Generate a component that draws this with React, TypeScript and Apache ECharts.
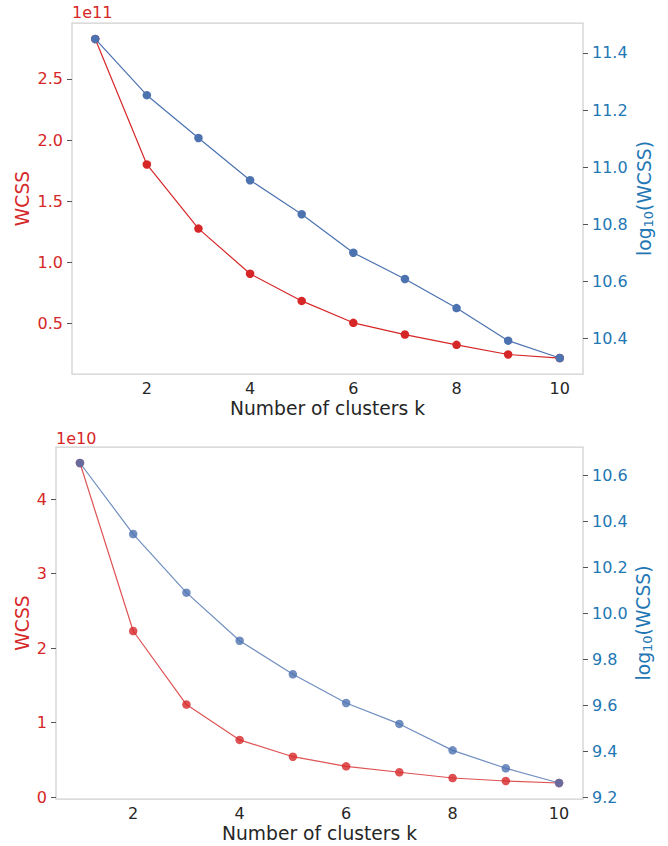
import React, { useEffect, useRef } from "react";
import * as echarts from "echarts";

const kValues = [1, 2, 3, 4, 5, 6, 7, 8, 9, 10];
const wcssTop = [2.826e11, 1.8e11, 1.276e11, 0.907e11, 0.685e11, 0.506e11, 0.41e11, 0.326e11, 0.247e11, 0.218e11];
const logTop = [11.449, 11.252, 11.102, 10.954, 10.835, 10.7, 10.608, 10.506, 10.392, 10.331];
const wcssBottom = [4.484e10, 2.229e10, 1.242e10, 0.767e10, 0.542e10, 0.413e10, 0.333e10, 0.256e10, 0.216e10, 0.189e10];
const logBottom = [10.654, 10.345, 10.09, 9.881, 9.735, 9.61, 9.519, 9.404, 9.326, 9.262];

const xTicks = [2, 4, 6, 8, 10];
const topLeftTicks = [0.5e11, 1.0e11, 1.5e11, 2.0e11, 2.5e11];
const topRightTicks = [10.4, 10.6, 10.8, 11.0, 11.2, 11.4];
const bottomLeftTicks = [0, 1e10, 2e10, 3e10, 4e10];
const bottomRightTicks = [9.2, 9.4, 9.6, 9.8, 10.0, 10.2, 10.4, 10.6];

const xLabel = "Number of clusters k";
const leftLabel = "WCSS";
const topExp = "1e11";
const bottomExp = "1e10";

const RED = "#d62728";
const BLUE = "#4c72b0";
const TICK_BLUE = "#1f77b4";
const DARK = "#262626";
const FONT = "DejaVu Sans";
const LABEL_SIZE = 18.7;

const margin = (e: { min: number; max: number }, lo: boolean) => {
  const span = e.max - e.min;
  return lo ? e.min - 0.05 * span : e.max + 0.05 * span;
};

const pairs = (ys: number[]) => kValues.map((k, i) => [k, ys[i]]);

export default function App() {
  const ref = useRef<HTMLDivElement>(null);
  useEffect(() => {
    if (!ref.current) return;
    const chart = echarts.init(ref.current, null, { renderer: "svg" });

    const xAxis = (gridIndex: number, nameGap: number) => ({
      type: "value",
      gridIndex,
      min: (e: any) => margin(e, true),
      max: (e: any) => margin(e, false),
      splitLine: { show: false },
      axisLine: { show: false },
      axisTick: { show: false },
      axisLabel: {
        customValues: xTicks,
        color: DARK,
        fontSize: 16,
        fontFamily: FONT,
        margin: 6,
        formatter: (v: number) => String(v),
      },
      name: xLabel,
      nameLocation: "middle",
      nameGap,
      nameMoveOverlap: false,
      nameTextStyle: { color: DARK, fontSize: LABEL_SIZE, fontFamily: FONT },
    });

    const yAxis = (
      gridIndex: number,
      position: string,
      ticks: number[],
      fmt: (v: number) => string,
      color: string,
      name: string,
      nameGap: number,
      rich?: any
    ) => ({
      type: "value",
      gridIndex,
      position,
      min: (e: any) => margin(e, true),
      max: (e: any) => margin(e, false),
      splitLine: { show: false },
      axisLine: { show: false },
      axisTick: {
        show: true,
        customValues: ticks,
        length: 5,
        lineStyle: { color: "#555555", width: 1 },
      },
      axisLabel: {
        customValues: ticks,
        color,
        fontSize: 16,
        fontFamily: FONT,
        margin: 9,
        formatter: fmt,
      },
      name,
      nameLocation: "middle",
      nameGap,
      nameMoveOverlap: false,
      nameTextStyle: { color, fontSize: LABEL_SIZE, fontFamily: FONT, rich },
    });

    const logRich = {
      a: { color: TICK_BLUE, fontSize: LABEL_SIZE, fontFamily: FONT, lineHeight: 22, verticalAlign: "middle" },
      b: { color: TICK_BLUE, fontSize: 13, fontFamily: FONT, lineHeight: 12, verticalAlign: "bottom", padding: [6, 0, 0, 0] },
    };
    const logName = "{a|log}{b|10}{a|(WCSS)}";

    const series = (xi: number, yi: number, data: number[], color: string, opacity: number) => ({
      type: "line",
      xAxisIndex: xi,
      yAxisIndex: yi,
      data: pairs(data),
      symbol: "circle",
      symbolSize: 8.5,
      lineStyle: { color, width: 1.2, opacity },
      itemStyle: { color, opacity },
      emphasis: { disabled: true },
    });

    chart.setOption({
      animation: false,
      textStyle: { fontFamily: FONT },
      grid: [
        { left: 72, top: 23, width: 511, height: 351, show: true, borderColor: "#d0d0d0", borderWidth: 1.25, backgroundColor: "#ffffff" },
        { left: 56, top: 447, width: 527, height: 352, show: true, borderColor: "#d0d0d0", borderWidth: 1.25, backgroundColor: "#ffffff" },
      ],
      xAxis: [xAxis(0, 25), xAxis(1, 25)],
      yAxis: [
        yAxis(0, "left", topLeftTicks, (v) => (v / 1e11).toFixed(1), RED, leftLabel, 40),
        yAxis(0, "right", topRightTicks, (v) => v.toFixed(1), TICK_BLUE, logName, 50, logRich),
        yAxis(1, "left", bottomLeftTicks, (v) => String(Math.round(v / 1e10)), RED, leftLabel, 24),
        yAxis(1, "right", bottomRightTicks, (v) => v.toFixed(1), TICK_BLUE, logName, 49, logRich),
      ],
      graphic: [
        { type: "text", x: 72, y: 20, style: { text: topExp, fill: RED, font: `16px "${FONT}"`, textAlign: "left", textVerticalAlign: "bottom" } },
        { type: "text", x: 56, y: 446, style: { text: bottomExp, fill: RED, font: `16px "${FONT}"`, textAlign: "left", textVerticalAlign: "bottom" } },
      ],
      series: [
        series(0, 0, wcssTop, RED, 1),
        series(0, 1, logTop, BLUE, 1),
        series(1, 2, wcssBottom, RED, 0.8),
        series(1, 3, logBottom, BLUE, 0.8),
      ],
    });
    return () => chart.dispose();
  }, []);
  return (
    <div
      ref={ref}
      style={{ position: "absolute", left: 0, top: 0, width: 668, height: 846, background: "#ffffff" }}
    />
  );
}
